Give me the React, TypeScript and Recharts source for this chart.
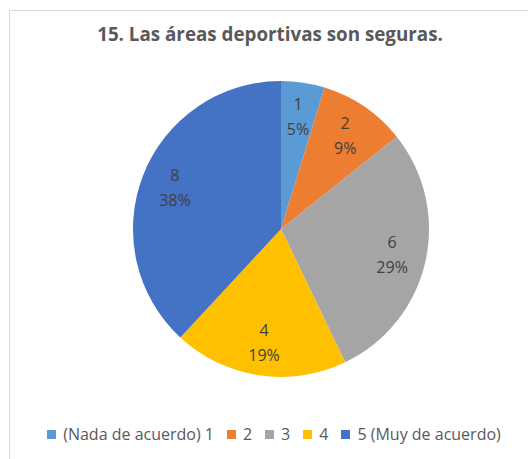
import React from "react";
import { PieChart, Pie, Cell, Legend } from "recharts";

const categories = ["(Nada de acuerdo) 1", "2", "3", "4", "5 (Muy de acuerdo)"];
const values = [1, 2, 6, 4, 8];
const percentLabels = ["5%", "9%", "29%", "19%", "38%"];
const colors = ["#5B9BD5", "#ED7D31", "#A5A5A5", "#FFC000", "#4472C4"];

const data = categories.map((name, i) => ({ name, value: values[i], pct: percentLabels[i] }));

const RAD = Math.PI / 180;

const renderLabel = (props: any) => {
  const { cx, cy, midAngle, outerRadius, index, value } = props;
  const r = outerRadius * 0.77;
  const x = cx + r * Math.cos(-midAngle * RAD);
  const y = cy + r * Math.sin(-midAngle * RAD);
  return (
    <text
      x={x}
      y={y}
      textAnchor="middle"
      fill="#404040"
      fontFamily="'Open Sans', sans-serif"
      fontSize={16}
    >
      <tspan x={x} dy={-6}>{value}</tspan>
      <tspan x={x} dy={25}>{percentLabels[index]}</tspan>
    </text>
  );
};

const renderLegend = (props: any) => {
  const { payload } = props;
  return (
    <div
      style={{
        display: "flex",
        justifyContent: "center",
        alignItems: "center",
        fontFamily: "'Open Sans', sans-serif",
        fontSize: 16,
        color: "#595959",
        whiteSpace: "nowrap",
      }}
    >
      {(payload || []).map((entry: any, i: number) => (
        <span key={i} style={{ display: "inline-flex", alignItems: "center", marginRight: i < payload.length - 1 ? 13 : 0 }}>
          <span style={{ display: "inline-block", width: 9, height: 9, background: entry.color, marginRight: 7 }} />
          {entry.value}
        </span>
      ))}
    </div>
  );
};

export default function App() {
  return (
    <div style={{ position: "absolute", left: 0, top: 0, width: 528, height: 459, background: "#fff", overflow: "hidden", fontFamily: "'Open Sans', sans-serif" }}>
      <div style={{ position: "absolute", left: 9, top: 10, width: 560, height: 500, border: "1px solid #d9d9d9", boxSizing: "border-box" }} />
      <div style={{ position: "absolute", left: 0, top: 21, width: 540, textAlign: "center", fontWeight: 700, fontSize: 18.8, color: "#595959" }}>
        15. Las áreas deportivas son seguras.
      </div>
      <div style={{ position: "absolute", left: 0, top: 0 }}>
        <PieChart width={528} height={459} margin={{ top: 0, right: 0, bottom: 0, left: 0 }}>
          <Pie
            data={data}
            dataKey="value"
            nameKey="name"
            cx={281}
            cy={229}
            outerRadius={148}
            startAngle={90}
            endAngle={-270}
            stroke="#ffffff"
            strokeWidth={0}
            label={renderLabel}
            labelLine={false}
            isAnimationActive={false}
          >
            {data.map((d, i) => (
              <Cell key={i} fill={colors[i]} />
            ))}
          </Pie>
          <Legend
            content={renderLegend}
            verticalAlign="bottom"
            wrapperStyle={{ top: 423, left: 10, width: 528, bottom: "auto" }}
          />
        </PieChart>
      </div>
    </div>
  );
}
